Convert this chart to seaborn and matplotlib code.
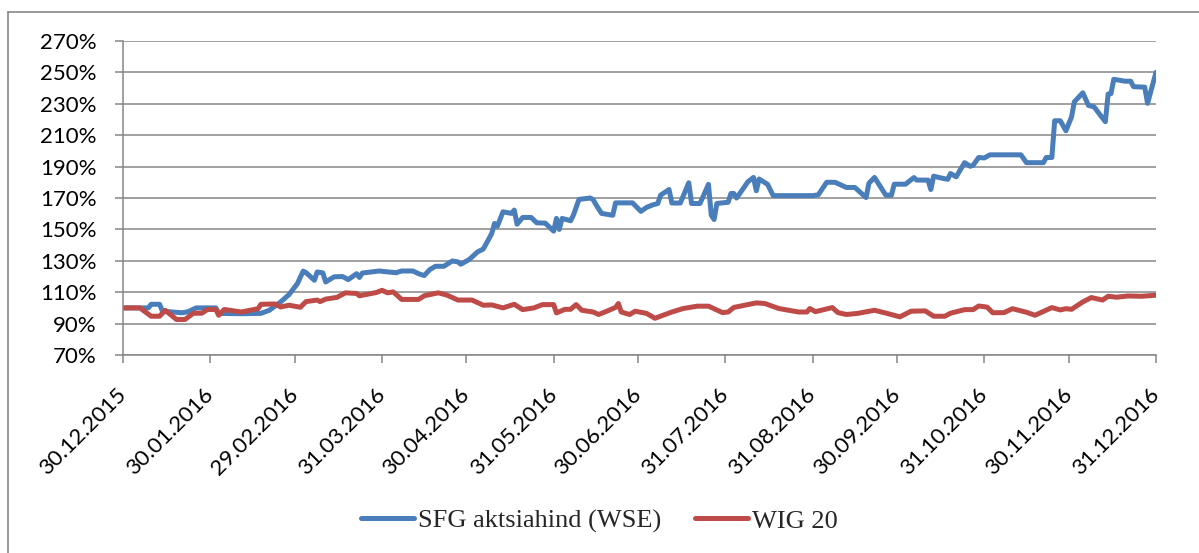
import pandas as pd
import matplotlib.pyplot as plt
from matplotlib.lines import Line2D
import seaborn as sns

# SFG aktsiahind (WSE), % of start value
sfg_dates = [
    "30.12.2015", "08.01.2016", "09.01.2016", "12.01.2016", "13.01.2016", "16.01.2016", "20.01.2016",
    "22.01.2016", "25.01.2016", "01.02.2016", "02.02.2016", "10.02.2016", "17.02.2016", "20.02.2016",
    "24.02.2016", "27.02.2016", "01.03.2016", "03.03.2016", "04.03.2016", "07.03.2016", "08.03.2016",
    "10.03.2016", "11.03.2016", "14.03.2016", "17.03.2016", "19.03.2016", "22.03.2016", "23.03.2016",
    "24.03.2016", "30.03.2016", "05.04.2016", "07.04.2016", "11.04.2016", "13.04.2016", "15.04.2016",
    "17.04.2016", "19.04.2016", "22.04.2016", "25.04.2016", "27.04.2016", "28.04.2016", "01.05.2016",
    "04.05.2016", "06.05.2016", "08.05.2016", "09.05.2016", "10.05.2016", "11.05.2016", "13.05.2016",
    "16.05.2016", "17.05.2016", "18.05.2016", "20.05.2016", "23.05.2016", "25.05.2016", "28.05.2016",
    "31.05.2016", "01.06.2016", "02.06.2016", "03.06.2016", "06.06.2016", "07.06.2016", "09.06.2016",
    "13.06.2016", "14.06.2016", "15.06.2016", "17.06.2016", "21.06.2016", "22.06.2016", "28.06.2016",
    "01.07.2016", "03.07.2016", "05.07.2016", "07.07.2016", "08.07.2016", "11.07.2016", "12.07.2016",
    "15.07.2016", "18.07.2016", "19.07.2016", "22.07.2016", "25.07.2016", "26.07.2016", "27.07.2016",
    "28.07.2016", "01.08.2016", "02.08.2016", "03.08.2016", "04.08.2016", "08.08.2016", "10.08.2016",
    "11.08.2016", "12.08.2016", "15.08.2016", "17.08.2016", "31.08.2016", "02.09.2016", "05.09.2016",
    "08.09.2016", "12.09.2016", "15.09.2016", "19.09.2016", "20.09.2016", "22.09.2016", "24.09.2016",
    "26.09.2016", "28.09.2016", "29.09.2016", "03.10.2016", "06.10.2016", "07.10.2016", "11.10.2016",
    "12.10.2016", "13.10.2016", "15.10.2016", "18.10.2016", "19.10.2016", "21.10.2016", "24.10.2016",
    "26.10.2016", "27.10.2016", "29.10.2016", "31.10.2016", "02.11.2016", "13.11.2016", "15.11.2016",
    "21.11.2016", "22.11.2016", "24.11.2016", "25.11.2016", "27.11.2016", "29.11.2016", "01.12.2016",
    "02.12.2016", "05.12.2016", "07.12.2016", "09.12.2016", "13.12.2016", "14.12.2016", "15.12.2016",
    "16.12.2016", "20.12.2016", "22.12.2016", "23.12.2016", "27.12.2016", "28.12.2016", "30.12.2016",
    "31.12.2016",
]
sfg_values = [
    100, 100, 102.3, 102.3, 97.9, 97.5, 96.9,
    97.5, 100, 100, 96.5, 96.3, 96.5, 98.5,
    103.8, 108.5, 115.6, 123.4, 122.5, 117.6, 122.9,
    122.3, 116.5, 119.8, 120, 118, 121.8, 119.4,
    122.2, 123.5, 122.4, 123.5, 123.5, 121.8, 120.6,
    124.4, 126.5, 126.5, 129.9, 129.3, 127.8, 130.8,
    135.7, 137.5, 144, 147.4, 153.8, 152, 161.2,
    160.2, 162.3, 153.3, 157.6, 157.6, 154.2, 154,
    148.9, 157, 150, 157, 155.5, 159, 169.1,
    170, 169, 165.9, 160.2, 159, 166.9, 166.9,
    161.5, 164, 165.5, 166.5, 171.8, 175.4, 166.8,
    166.8, 179.7, 166.5, 166.5, 178.7, 159, 156.3,
    166.5, 167.3, 172.9, 172.9, 170, 180.3, 183.1,
    174.6, 182.1, 178.7, 171.5, 171.5, 172, 180,
    180, 176.7, 176.7, 170.3, 179.4, 183.1, 177.4,
    171.8, 171.8, 178.8, 178.8, 183, 181.4, 181.4,
    175.4, 183.9, 183, 181.9, 185.6, 183.5, 192.5,
    190.2, 190.8, 195.8, 195.5, 197.5, 197.5, 192.5,
    192.5, 195.8, 195.8, 219.2, 219.2, 212.8, 221.7,
    231.3, 237, 229, 228, 218.6, 236.2, 236.5,
    245.6, 244.4, 244.4, 240.9, 240.6, 230.3, 243.3,
    250,
]

# WIG 20, % of start value
wig_dates = [
    "30.12.2015", "05.01.2016", "09.01.2016", "12.01.2016", "14.01.2016", "18.01.2016", "21.01.2016",
    "24.01.2016", "27.01.2016", "29.01.2016", "01.02.2016", "02.02.2016", "04.02.2016", "10.02.2016",
    "16.02.2016", "17.02.2016", "22.02.2016", "24.02.2016", "27.02.2016", "02.03.2016", "04.03.2016",
    "08.03.2016", "09.03.2016", "11.03.2016", "15.03.2016", "18.03.2016", "22.03.2016", "23.03.2016",
    "29.03.2016", "31.03.2016", "02.04.2016", "04.04.2016", "07.04.2016", "13.04.2016", "15.04.2016",
    "20.04.2016", "23.04.2016", "27.04.2016", "02.05.2016", "06.05.2016", "09.05.2016", "13.05.2016",
    "17.05.2016", "20.05.2016", "24.05.2016", "27.05.2016", "31.05.2016", "01.06.2016", "04.06.2016",
    "06.06.2016", "08.06.2016", "10.06.2016", "14.06.2016", "16.06.2016", "19.06.2016", "22.06.2016",
    "23.06.2016", "24.06.2016", "27.06.2016", "29.06.2016", "03.07.2016", "06.07.2016", "12.07.2016",
    "16.07.2016", "21.07.2016", "25.07.2016", "30.07.2016", "01.08.2016", "03.08.2016", "11.08.2016",
    "14.08.2016", "19.08.2016", "26.08.2016", "29.08.2016", "30.08.2016", "01.09.2016", "07.09.2016",
    "09.09.2016", "12.09.2016", "16.09.2016", "22.09.2016", "26.09.2016", "01.10.2016", "05.10.2016",
    "10.10.2016", "13.10.2016", "17.10.2016", "19.10.2016", "24.10.2016", "27.10.2016", "29.10.2016",
    "01.11.2016", "03.11.2016", "07.11.2016", "10.11.2016", "15.11.2016", "18.11.2016", "24.11.2016",
    "27.11.2016", "29.11.2016", "01.12.2016", "05.12.2016", "08.12.2016", "12.12.2016", "14.12.2016",
    "17.12.2016", "21.12.2016", "26.12.2016", "31.12.2016",
]
wig_values = [
    100, 100, 94.7, 94.7, 98.5, 92.6, 92.6,
    96.6, 96.6, 99, 99, 95.3, 99, 97.4,
    99.5, 102.3, 102.5, 100.6, 101.7, 100.4, 104,
    105, 104, 105.6, 106.7, 109.6, 109.2, 107.7,
    109.8, 111.2, 109.6, 110.2, 105.4, 105.4, 107.7,
    109.6, 108.2, 105, 105, 101.7, 101.9, 100,
    102.3, 98.9, 100, 102.1, 102.1, 96.8, 99.1,
    99.1, 102.1, 98.5, 97.4, 95.8, 98, 100.3,
    102.8, 97.4, 95.8, 97.9, 96.5, 93.4, 97.4,
    99.6, 101.1, 101.1, 97, 97.4, 100.3, 103.2,
    102.8, 99.6, 97.4, 97.4, 99.6, 97.6, 100.2,
    97, 95.8, 96.5, 98.5, 96.7, 94.3, 97.9,
    98.1, 94.7, 94.7, 96.6, 98.9, 98.9, 101.2,
    100.5, 96.9, 97, 99.5, 97.2, 95.3, 100.2,
    98.7, 99.5, 99.1, 103.8, 106.6, 105, 107.4,
    106.8, 107.6, 107.4, 108.1,
]

series_names = ["SFG aktsiahind (WSE)", "WIG 20"]
tick_dates = ["30.12.2015", "30.01.2016", "29.02.2016", "31.03.2016", "30.04.2016", "31.05.2016",
              "30.06.2016", "31.07.2016", "31.08.2016", "30.09.2016", "31.10.2016", "30.11.2016",
              "31.12.2016"]
y_ticks = list(range(70, 271, 20))

df = pd.concat([
    pd.DataFrame({"kuupaev": sfg_dates, "vaartus": sfg_values, "seeria": series_names[0]}),
    pd.DataFrame({"kuupaev": wig_dates, "vaartus": wig_values, "seeria": series_names[1]}),
])
df["kuupaev"] = pd.to_datetime(df["kuupaev"], format="%d.%m.%Y")
ticks = pd.to_datetime(tick_dates, format="%d.%m.%Y")

sns.set_theme(style="white")
plt.rcParams["font.family"] = ["Lato", "DejaVu Sans"]

grid_col = "#868686"
fig = plt.figure(figsize=(11.99, 5.53), dpi=100)
ax = fig.add_axes([123 / 1199, 1 - 355 / 553, (1156 - 123) / 1199, (355 - 41) / 553])

sns.lineplot(data=df, x="kuupaev", y="vaartus", hue="seeria", estimator=None,
             palette=["#4A7EBB", "#BE4B48"], linewidth=3.6, ax=ax)
for ln in ax.get_lines():
    ln.set_solid_joinstyle("round")
    ln.set_solid_capstyle("round")

ax.set_xlim(ticks[0], ticks[-1])
ax.set_ylim(70, 270)
ax.set_yticks(y_ticks)
ax.set_yticklabels([f"{v}%" for v in y_ticks])
ax.set_xticks(ticks)
ax.set_xticklabels(tick_dates, rotation=45, ha="right", va="center", rotation_mode="anchor")
ax.set(xlabel="", ylabel="")

ax.yaxis.grid(True, color=grid_col, linewidth=1.1)
ax.set_axisbelow(True)
for side in ["top", "right"]:
    ax.spines[side].set_visible(False)
for side in ["left", "bottom"]:
    ax.spines[side].set_color(grid_col)
    ax.spines[side].set_linewidth(1.1)
ax.tick_params(axis="both", direction="out", length=6, width=1.1, color=grid_col,
               labelsize=16, labelcolor="black")
ax.tick_params(axis="y", pad=13, left=True)
ax.tick_params(axis="x", pad=20, bottom=True)

handles, labels = ax.get_legend_handles_labels()
ax.get_legend().remove()
fig.legend(handles, labels, loc="center", bbox_to_anchor=(0.5, 1 - 521 / 553), ncol=2,
           frameon=False, handlelength=2.0, handletextpad=0.15, columnspacing=1.3,
           prop={"family": "Liberation Serif", "size": 19})

# chart area border
fig.add_artist(Line2D([8 / 1199, 8 / 1199], [0, 1 - 12 / 553], color=grid_col, linewidth=1.2))
fig.add_artist(Line2D([8 / 1199, 1], [1 - 12 / 553, 1 - 12 / 553], color=grid_col, linewidth=1.2))

plt.savefig("out.png", dpi=100)
plt.close()
